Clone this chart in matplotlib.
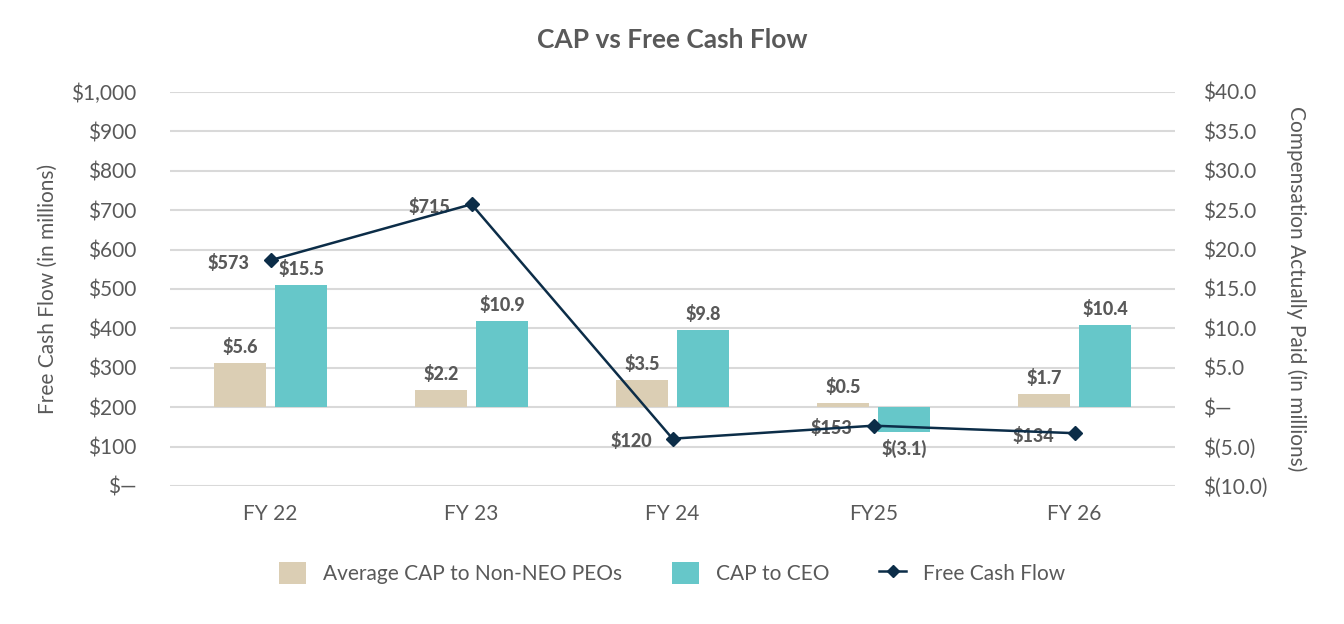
import matplotlib
matplotlib.use("Agg")
import matplotlib.pyplot as plt
from matplotlib.ticker import FuncFormatter, MultipleLocator
from matplotlib.patches import Patch
from matplotlib.lines import Line2D
import numpy as np

categories = ["FY 22", "FY 23", "FY 24", "FY25", "FY 26"]
avg_cap_non_neo = [5.6, 2.2, 3.5, 0.5, 1.7]
cap_ceo = [15.5, 10.9, 9.8, -3.1, 10.4]
free_cash_flow = [573, 715, 120, 153, 134]

C_BEIGE = "#DBCEB4"
C_TEAL = "#66C7C9"
C_LINE = "#0C2D48"
C_TEXT = "#595959"
C_GRID = "#D9D9D9"

plt.rcParams["font.family"] = ["Lato", "DejaVu Sans"]

fig = plt.figure(figsize=(13.44, 6.24), dpi=100)
ax1 = fig.add_axes([0.1265, 0.2212, 0.7478, 0.6314])
ax2 = ax1.twinx()

x = np.arange(len(categories))
w = 0.255
off = 0.152

# bars on right axis (ax2)
ax2.bar(x - off, avg_cap_non_neo, width=w, color=C_BEIGE, zorder=2)
ax2.bar(x + off, cap_ceo, width=w, color=C_TEAL, zorder=2)
ax2.set_ylim(-10, 40)
ax2.yaxis.set_major_locator(MultipleLocator(5))
ax2.grid(axis="y", color=C_GRID, lw=1.5, zorder=0)
ax2.set_axisbelow(True)

def fmt_right(v, pos):
    if abs(v) < 1e-9:
        return "$\u2014"
    if v < 0:
        return "$(%.1f)" % abs(v)
    return "$%.1f" % v

def fmt_left(v, pos):
    if abs(v) < 1e-9:
        return "$\u2014"
    return "${:,.0f}".format(v)

ax2.yaxis.set_major_formatter(FuncFormatter(fmt_right))

LBL = dict(fontsize=13, fontweight="black", color=C_TEXT)
for xi, v in zip(x - off, avg_cap_non_neo):
    ax2.annotate("$%.1f" % v, (xi, v), xytext=(0, 5), textcoords="offset points",
                 ha="center", va="bottom", **LBL)
for xi, v in zip(x + off, cap_ceo):
    if v >= 0:
        ax2.annotate("$%.1f" % v, (xi, v), xytext=(0, 5), textcoords="offset points",
                     ha="center", va="bottom", **LBL)
    else:
        ax2.annotate("$(%.1f)" % abs(v), (xi, v), xytext=(0, -5), textcoords="offset points",
                     ha="center", va="top", **LBL)

# line on left axis (ax1), drawn above
ax1.set_zorder(ax2.get_zorder() + 1)
ax1.patch.set_visible(False)
for xi, v in zip(x, free_cash_flow):
    ax1.annotate("$%d" % v, (xi, v), xytext=(-15, -2), textcoords="offset points",
                 ha="right", va="center", zorder=4, **LBL)
ax1.plot(x, free_cash_flow, color=C_LINE, lw=1.8, marker="D", markersize=7, zorder=5)
ax1.set_ylim(0, 1000)
ax1.yaxis.set_major_locator(MultipleLocator(100))
ax1.yaxis.set_major_formatter(FuncFormatter(fmt_left))
ax1.set_xlim(-0.5, len(categories) - 0.5)
ax1.set_xticks(x)
ax1.set_xticklabels(categories)

for ax in (ax1, ax2):
    for s in ax.spines.values():
        s.set_visible(False)

ax1.tick_params(axis="y", length=0, pad=24, labelsize=15, labelcolor=C_TEXT)
ax2.tick_params(axis="y", length=0, pad=20, labelsize=15, labelcolor=C_TEXT)
ax1.tick_params(axis="x", length=0, pad=13, labelsize=15, labelcolor=C_TEXT)

ax1.set_ylabel("Free Cash Flow (in millions)", fontsize=15, color=C_TEXT, labelpad=10)
ax2.set_ylabel("Compensation Actually Paid (in millions)", fontsize=15, color=C_TEXT,
               rotation=270, labelpad=28)

fig.text(0.5, 1 - 40 / 624, "CAP vs Free Cash Flow", ha="center", va="center",
         fontsize=19, fontweight="bold", color=C_TEXT)

handles = [
    Patch(facecolor=C_BEIGE, edgecolor="none"),
    Patch(facecolor=C_TEAL, edgecolor="none"),
    Line2D([0], [0], color=C_LINE, lw=1.8, marker="D", markersize=6),
]
labels = ["Average CAP to Non-NEO PEOs", "CAP to CEO", "Free Cash Flow"]
leg = fig.legend(handles, labels, loc="center", bbox_to_anchor=(0.5, 1 - 573 / 624),
                 ncol=3, frameon=False, fontsize=15, handlelength=1.3, handleheight=1.3,
                 columnspacing=2.4, handletextpad=0.8)
for t in leg.get_texts():
    t.set_color(C_TEXT)

fig.savefig("out.png", dpi=100)
